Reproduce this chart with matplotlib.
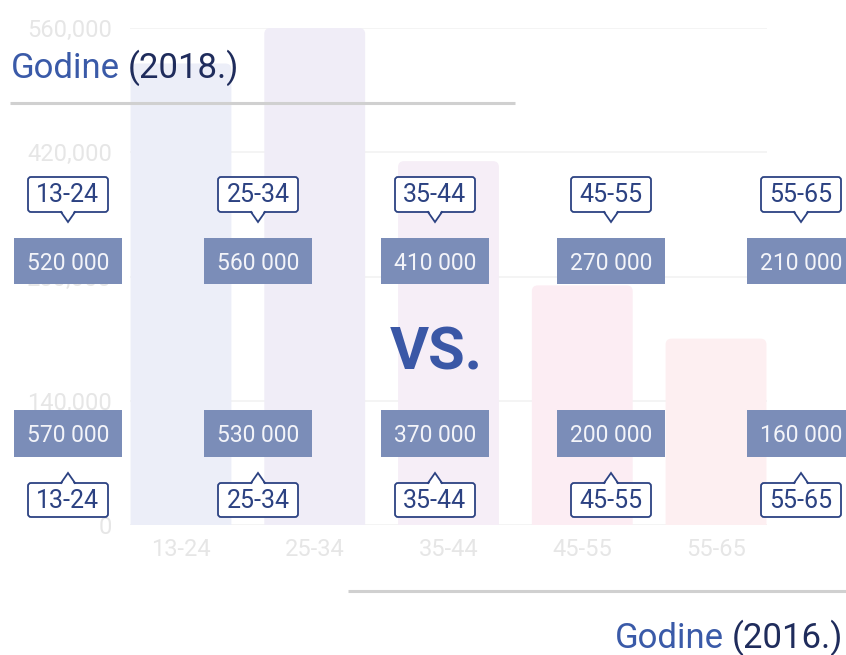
import matplotlib
matplotlib.use('Agg')

import matplotlib.pyplot as plt
from matplotlib.patches import FancyBboxPatch, Polygon, Rectangle
from matplotlib.ticker import FuncFormatter

plt.rcParams['font.family'] = ['Roboto', 'DejaVu Sans']

# 데이터
age_groups = ['13-24', '25-34', '35-44', '45-55', '55-65']
users_2018 = [520000, 560000, 410000, 270000, 210000]
users_2016 = [570000, 530000, 370000, 200000, 160000]
y_ticks = [0, 140000, 280000, 420000, 560000]

bar_colors = ['#eceef8', '#f0edf7', '#f6eef7', '#fcedf3', '#fdeff1']
NAVY = '#2c4282'
BOX = '#7b8db8'
W, H = 846, 655

fig = plt.figure(figsize=(W / 100, H / 100), dpi=100)

# 배경 막대 차트 (흐리게)
ax = fig.add_axes([130 / W, 130 / H, 637 / W, 497 / H])
ax.set_xlim(-0.381, 4.381)
ax.set_ylim(0, 560000)
for i, v in enumerate(users_2018):
    ax.add_patch(FancyBboxPatch((i - 0.377, -10000), 0.754, v + 10000,
                                boxstyle='round,pad=0,rounding_size=0.045',
                                mutation_aspect=150000,
                                fc=bar_colors[i], ec='none', zorder=2))
ax.set_yticks(y_ticks)
ax.yaxis.set_major_formatter(FuncFormatter(lambda v, p: f'{v:,.0f}'))
ax.set_xticks(range(len(age_groups)))
ax.set_xticklabels(age_groups)
ax.tick_params(axis='y', length=0, colors='#e6e6e6', labelsize=17, pad=13)
ax.tick_params(axis='x', length=0, colors='#e6e6e6', labelsize=17, pad=9)
for s in ax.spines.values():
    s.set_visible(False)
ax.yaxis.grid(True, color='#f2f2f2', lw=1.2)
ax.set_axisbelow(True)

# 오버레이 (픽셀 좌표)
ov = fig.add_axes([0, 0, 1, 1], zorder=5)
ov.set_xlim(0, W)
ov.set_ylim(H, 0)
ov.axis('off')
ov.patch.set_alpha(0)

col_x = [68, 258, 435, 611, 801]


def label_callout(cx, y0, y1, tip_y, text):
    ov.add_patch(FancyBboxPatch((cx - 40, y0), 80, y1 - y0,
                                boxstyle='round,pad=0,rounding_size=3',
                                fc='white', ec=NAVY, lw=1.3))
    base = y1 if tip_y > y1 else y0
    inner = base - 1.5 if tip_y > y1 else base + 1.5
    ov.add_patch(Polygon([(cx - 6.3, inner), (cx, tip_y), (cx + 6.3, inner)],
                         closed=True, fc='white', ec='none'))
    ov.plot([cx - 7, cx, cx + 7], [base, tip_y, base], color=NAVY, lw=1.3,
            solid_joinstyle='miter')
    ov.text(cx, (y0 + y1) / 2 + 1, text, ha='center', va='center',
            fontsize=18, color=NAVY)


def value_box(cx, y0, y1, value):
    ov.add_patch(Rectangle((cx - 54, y0), 108, y1 - y0, fc=BOX, ec='none'))
    ov.text(cx, (y0 + y1) / 2 + 2, f'{value:,}'.replace(',', ' '),
            ha='center', va='center', fontsize=16.5, color='#f3f4f9')


for i, g in enumerate(age_groups):
    label_callout(col_x[i], 177, 212, 222, g)
    value_box(col_x[i], 238, 284, users_2018[i])
    value_box(col_x[i], 410, 457, users_2016[i])
    label_callout(col_x[i], 483, 517, 473, g)

ov.text(436, 370, 'VS.', ha='center', va='baseline', fontsize=43,
        weight='bold', color='#3a57a6')

# 제목
ov.plot([10, 515], [103, 103], color='#d0d0d0', lw=2.2, solid_capstyle='butt')
ov.plot([348, W], [591, 591], color='#d0d0d0', lw=2.2, solid_capstyle='butt')

fig.canvas.draw()
r = fig.canvas.get_renderer()
inv = ov.transData.inverted()

t1 = ov.text(11, 78, 'Godine', ha='left', va='baseline', fontsize=25,
             color='#3a5aa8')
bb = t1.get_window_extent(r)
x_end = inv.transform((bb.x1, bb.y0))[0]
ov.text(x_end + 8, 78, '(2018.)', ha='left', va='baseline', fontsize=25,
        color='#1f2c5c')

t2 = ov.text(843, 648, '(2016.)', ha='right', va='baseline', fontsize=25,
             color='#1f2c5c')
bb = t2.get_window_extent(r)
x_start = inv.transform((bb.x0, bb.y0))[0]
ov.text(x_start - 8, 648, 'Godine', ha='right', va='baseline', fontsize=25,
        color='#3a5aa8')

plt.savefig('out.png', dpi=100)
plt.close()
